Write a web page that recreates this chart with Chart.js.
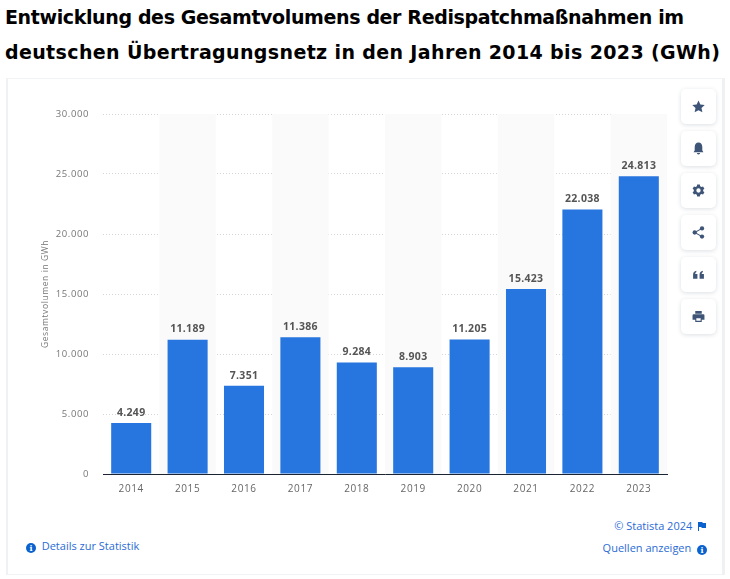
<!DOCTYPE html>
<html lang="de">
<head>
<meta charset="utf-8">
<title>Redispatch</title>
<script src="https://cdn.jsdelivr.net/npm/chart.js@4/dist/chart.umd.min.js"></script>
<style>
  html, body { margin: 0; padding: 0; background: #fff; }
  body { width: 730px; height: 579px; position: relative; overflow: hidden; font-family: "Open Sans", sans-serif; }
  h1 { position: absolute; left: 5px; margin: 0; font: bold 19px/30px "DejaVu Sans", sans-serif; color: #000; white-space: nowrap; }
  #card { position: absolute; left: 6px; top: 78px; width: 719px; height: 497px; background: #fff; border-left: 2px solid #f0f1f2; border-right: 3px solid #f0f1f2; border-top: 1px solid #f2f3f4; border-bottom: 1px solid #f2f3f4; box-sizing: border-box; }
  #chartBox { position: absolute; left: 0; top: 78px; width: 730px; height: 426px; }
  .btn { position: absolute; left: 681px; width: 35px; height: 35px; background: #fff; border-radius: 5px; box-shadow: 0 1px 4px rgba(60,75,100,.18); display: flex; align-items: center; justify-content: center; }
  .btn svg { width: 13px; height: 13px; fill: #3f5577; }
  .link { position: absolute; font-size: 11px; line-height: 14px; color: #2a6bd6; white-space: nowrap; }
  .dot { display: inline-block; width: 10px; height: 10px; border-radius: 50%; background: #0b62cf; color: #fff; font: bold 8px/10px "DejaVu Serif", serif; text-align: center; vertical-align: -1px; }
</style>
</head>
<body>
<div id="card"></div>
<h1 style="top:2px;letter-spacing:-0.37px">Entwicklung des Gesamtvolumens der Redispatchmaßnahmen im</h1>
<h1 style="top:37px;letter-spacing:0.37px">deutschen Übertragungsnetz in den Jahren 2014 bis 2023 (GWh)</h1>
<div id="chartBox"><canvas id="chart"></canvas></div>

<div class="btn" style="top:89px"><svg viewBox="0 0 24 24"><path d="M12 1l3.4 7.4 8.1.9-6 5.5 1.7 8L12 18.700 4.800 22.800l1.700-8-6-5.500 8.100-.9z"/></svg></div>
<div class="btn" style="top:131px"><svg viewBox="0 0 24 24"><path d="M12 1c-4.500 0-7 3.500-7 8v6l-2 4h18l-2-4V9c0-4.500-2.500-8-7-8zM9 20.500h6a3 2.500 0 0 1-6 0z"/></svg></div>
<div class="btn" style="top:173px"><svg viewBox="0 0 24 24"><path fill-rule="evenodd" d="M9.500 1h5l.6 3 2.400 1.400 2.900-1 2.500 4.300-2.300 2V13.300l2.300 2-2.500 4.300-2.900-1-2.400 1.400-.6 3h-5l-.6-3-2.400-1.400-2.900 1L1.100 15.300l2.300-2V10.700l-2.300-2 2.500-4.300 2.900 1L8.900 4zM12 8a4 4 0 1 0 0 8 4 4 0 0 0 0-8z"/></svg></div>
<div class="btn" style="top:215px"><svg viewBox="0 0 24 24"><circle cx="18.500" cy="4.500" r="4"/><circle cx="18.500" cy="19.500" r="4"/><circle cx="5" cy="12" r="4"/><path d="M5 11l13-7.500 1 1.700L7 12l12 6.800-1 1.700L5 13z"/></svg></div>
<div class="btn" style="top:257px"><svg viewBox="0 0 24 24"><path d="M2 20v-8c0-4 2.500-6.500 6-7v3c-1.500.5-2 1.500-2 3h4v9zM14 20v-8c0-4 2.500-6.500 6-7v3c-1.500.5-2 1.500-2 3h4v9z"/></svg></div>
<div class="btn" style="top:299px"><svg viewBox="0 0 24 24"><path fill-rule="evenodd" d="M6 2h12v5H6zM3 8h18a2 2 0 0 1 2 2v8h-5v4H6v-4H1v-8a2 2 0 0 1 2-2zM8 15v5h8v-5z"/></svg></div>

<div class="link" style="left:26px;top:539px"><span class="dot">i</span>&nbsp; Details zur Statistik</div>
<div class="link" style="right:24px;top:519px">© Statista 2024 &nbsp;<svg width="8" height="9" viewBox="0 0 8 9" style="vertical-align:-1px"><path fill="#0b62cf" d="M0 0h1v9H0zM1 0h3l1 1h3v5H4L3 5H1z"/></svg></div>
<div class="link" style="right:23px;top:541px">Quellen anzeigen &nbsp;<span class="dot">i</span></div>

<script>
// Data
const years = ["2014", "2015", "2016", "2017", "2018", "2019", "2020", "2021", "2022", "2023"];
const volumes = [4249, 11189, 7351, 11386, 9284, 8903, 11205, 15423, 22038, 24813];
const valueLabels = ["4.249", "11.189", "7.351", "11.386", "9.284", "8.903", "11.205", "15.423", "22.038", "24.813"];
const yTicks = [0, 5000, 10000, 15000, 20000, 25000, 30000];
const yTickLabels = ["0", "5.000", "10.000", "15.000", "20.000", "25.000", "30.000"];

// grey stripes behind every second year, tick text is spaced out a bit
const bands = {
  id: "bands",
  beforeDraw(chart) {
    chart.ctx.letterSpacing = "0.6px";
  },
  beforeDatasetsDraw(chart) {
    const { ctx, chartArea, scales: { x } } = chart;
    const step = x.getPixelForValue(1) - x.getPixelForValue(0);
    ctx.save();
    ctx.fillStyle = "#fafafa";
    years.forEach((y, i) => {
      if (i % 2 === 1) {
        ctx.fillRect(x.getPixelForValue(i) - step / 2, chartArea.top, step, chartArea.height);
      }
    });
    ctx.restore();
  }
};

// value labels above the bars
const valueText = {
  id: "valueText",
  afterDatasetsDraw(chart) {
    const { ctx } = chart;
    const meta = chart.getDatasetMeta(0);
    ctx.save();
    ctx.font = "bold 10.5px 'Open Sans'";
    ctx.letterSpacing = "0.3px";
    ctx.fillStyle = "#555";
    ctx.textAlign = "center";
    ctx.textBaseline = "bottom";
    meta.data.forEach((bar, i) => {
      ctx.fillText(valueLabels[i], bar.x, bar.y - 5);
    });
    ctx.restore();
  }
};

new Chart(document.getElementById("chart"), {
  type: "bar",
  data: {
    labels: years,
    datasets: [{
      data: volumes,
      backgroundColor: "#2775de",
      barPercentage: 0.71,
      categoryPercentage: 1
    }]
  },
  options: {
    responsive: true,
    maintainAspectRatio: false,
    animation: false,
    layout: { padding: { top: 36, right: 63, bottom: 0, left: 40 } },
    plugins: { legend: { display: false }, tooltip: { enabled: false } },
    scales: {
      x: {
        grid: { display: false, drawTicks: false },
        border: { color: "#1b2433", width: 1 },
        ticks: { color: "#666", font: { size: 10, family: "'Open Sans'" }, padding: 9, maxRotation: 0 }
      },
      y: {
        min: 0,
        max: 30000,
        afterBuildTicks(axis) { axis.ticks = yTicks.map(v => ({ value: v })); },
        afterFit(axis) { axis.width = 63; },
        grid: { color: "#d4d6d9", drawTicks: false, tickLength: 0 },
        border: { display: false, dash: [1, 2] },
        ticks: {
          color: "#777",
          font: { size: 9.5, family: "'Open Sans'" },
          padding: 14,
          callback: (v) => yTickLabels[yTicks.indexOf(v)]
        },
        title: {
          display: true,
          text: "Gesamtvolumen in GWh",
          color: "#777",
          font: { size: 8.5, family: "'Open Sans'" },
          padding: 0
        }
      }
    }
  },
  plugins: [bands, valueText]
});
</script>
</body>
</html>
